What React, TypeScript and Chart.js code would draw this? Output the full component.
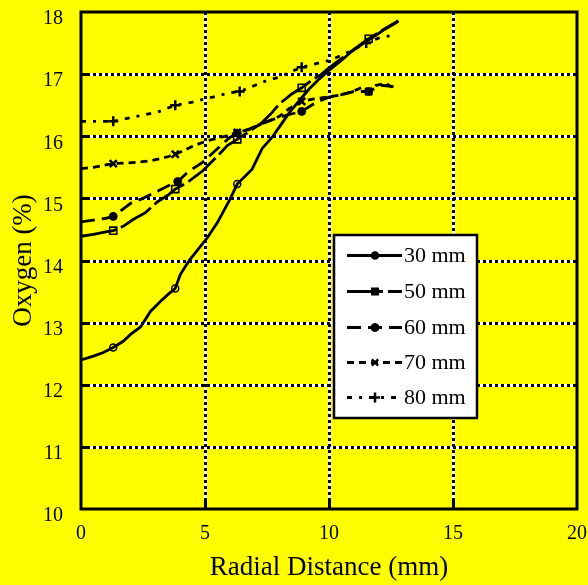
import React, { useEffect, useRef } from 'react';
import { Chart, registerables } from 'chart.js';
import { drawPoint } from 'chart.js/helpers';

Chart.register(...registerables);

const FONT = "'Liberation Serif', 'Times New Roman', Times, serif";

// ---- data ----
const seriesLabels = ['30 mm', '50 mm', '60 mm', '70 mm', '80 mm'];

const x30 = [0, 0.5, 0.9, 1.3, 1.7, 2.0, 2.4, 2.8, 3.2, 3.5, 3.8, 4.0, 4.2, 4.4, 4.8, 5.1, 5.5, 6.0, 6.3, 6.9, 7.3, 7.7, 8.0, 8.4, 8.9, 9.2, 9.6, 10.0, 10.5, 10.9, 11.4, 11.8, 12.2, 12.5, 12.8];
const y30 = [12.40, 12.46, 12.52, 12.60, 12.70, 12.81, 12.93, 13.18, 13.34, 13.45, 13.55, 13.77, 13.90, 14.02, 14.22, 14.37, 14.61, 14.98, 15.23, 15.47, 15.80, 15.98, 16.15, 16.38, 16.62, 16.76, 16.92, 17.06, 17.22, 17.36, 17.50, 17.60, 17.71, 17.78, 17.85];
const m30 = [1.3, 3.8, 6.3];

const x50 = [0, 0.5, 1.0, 1.3, 1.7, 2.1, 2.6, 3.1, 3.5, 3.8, 4.3, 4.9, 5.5, 5.9, 6.3, 6.8, 7.3, 7.7, 8.0, 8.5, 8.9, 9.3, 9.7, 10.0, 10.5, 11.0, 11.6, 12.2, 12.8];
const y50 = [14.39, 14.42, 14.46, 14.48, 14.55, 14.66, 14.77, 14.95, 15.05, 15.15, 15.26, 15.44, 15.68, 15.85, 15.95, 16.08, 16.22, 16.38, 16.52, 16.68, 16.78, 16.90, 17.00, 17.10, 17.25, 17.40, 17.57, 17.72, 17.86];
const m50 = [1.3, 3.8, 6.3, 8.9, 11.6];

const x60 = [0, 0.5, 1.0, 1.3, 1.6, 2.0, 2.5, 3.0, 3.5, 3.9, 4.3, 4.9, 5.5, 6.0, 6.3, 6.8, 7.3, 7.8, 8.4, 8.9, 9.5, 10.0, 10.5, 11.0, 11.6, 12.1, 12.6];
const y60 = [14.62, 14.65, 14.68, 14.71, 14.80, 14.92, 15.00, 15.10, 15.20, 15.27, 15.42, 15.58, 15.80, 15.98, 16.05, 16.12, 16.20, 16.28, 16.35, 16.40, 16.55, 16.63, 16.67, 16.72, 16.72, 16.82, 16.80];
const m60 = [1.3, 3.9, 6.3, 8.9, 11.6];

const x70 = [0, 0.5, 1.0, 1.3, 1.8, 2.2, 2.7, 3.1, 3.5, 3.8, 4.2, 4.5, 4.9, 5.3, 5.8, 6.3, 6.8, 7.3, 7.7, 8.0, 8.4, 8.9, 9.4, 9.9, 10.4, 10.9, 11.3, 11.6, 11.9, 12.3, 12.6];
const y70 = [15.48, 15.50, 15.54, 15.56, 15.57, 15.58, 15.60, 15.63, 15.67, 15.71, 15.78, 15.84, 15.90, 15.95, 16.00, 16.06, 16.11, 16.20, 16.27, 16.32, 16.45, 16.56, 16.60, 16.63, 16.66, 16.71, 16.78, 16.72, 16.82, 16.85, 16.78];
const m70 = [1.3, 3.8, 6.3, 8.9, 11.6];

const x80 = [0, 0.5, 1.0, 1.3, 2.0, 2.6, 3.1, 3.8, 4.5, 5.0, 5.5, 6.0, 6.4, 6.9, 7.5, 8.0, 8.4, 8.9, 9.4, 10.0, 10.5, 11.0, 11.5, 12.0, 12.6];
const y80 = [16.24, 16.24, 16.24, 16.24, 16.30, 16.35, 16.39, 16.50, 16.55, 16.60, 16.65, 16.70, 16.72, 16.80, 16.90, 16.95, 17.03, 17.11, 17.16, 17.22, 17.30, 17.40, 17.50, 17.58, 17.63];
const m80 = [1.3, 3.8, 6.4, 8.9, 11.5];

const xGrid = [5, 10, 15];
const yGrid = [11, 12, 13, 14, 15, 16, 17];

// ---- styles ----
const styles = [
  { dash: [] as number[], pointStyle: 'circle', radius: 3.5, pw: 1.5, fill: 'rgba(0,0,0,0)', legendR: 3.5 },
  { dash: [36, 5], pointStyle: 'rect', radius: 5, pw: 1.6, fill: 'rgba(0,0,0,0)', legendR: 4.5 },
  { dash: [14, 7], pointStyle: 'circle', radius: 4, pw: 1, fill: '#000', legendR: 4 },
  { dash: [7, 5], pointStyle: 'crossRot', radius: 5, pw: 2.5, fill: '#000', legendR: 4.5 },
  { dash: [5, 7, 3, 7], pointStyle: 'cross', radius: 5, pw: 2.5, fill: '#000', legendR: 5 },
];

function makeDataset(i: number, xs: number[], ys: number[], marks: number[]) {
  const s = styles[i];
  return {
    label: seriesLabels[i],
    data: xs.map((x, k) => ({ x, y: ys[k] })),
    borderColor: '#000',
    borderWidth: 2.8,
    borderDash: s.dash,
    tension: 0,
    fill: false,
    pointStyle: s.pointStyle,
    pointRadius: (c: any) => (marks.includes(xs[c.dataIndex]) ? s.radius : 0),
    pointBorderWidth: s.pw,
    pointBorderColor: '#000',
    pointBackgroundColor: s.fill,
  };
}

const bgPlugin = {
  id: 'bg',
  beforeDraw(chart: any) {
    const ctx = chart.ctx;
    ctx.save();
    ctx.fillStyle = '#ffff00';
    ctx.fillRect(0, 0, chart.width, chart.height);
    ctx.restore();
  },
};

const gridPlugin = {
  id: 'dottedGrid',
  beforeDatasetsDraw(chart: any) {
    const { ctx, chartArea: a, scales } = chart;
    ctx.save();
    const line = (x1: number, y1: number, x2: number, y2: number) => {
      ctx.beginPath();
      ctx.moveTo(x1, y1);
      ctx.lineTo(x2, y2);
      ctx.stroke();
    };
    ctx.lineWidth = 3;
    const segs: number[][] = [];
    xGrid.forEach((v) => {
      const px = Math.round(scales.x.getPixelForValue(v)) + 0.5;
      segs.push([px, a.top, px, a.bottom]);
    });
    yGrid.forEach((v) => {
      const py = Math.round(scales.y.getPixelForValue(v)) + 0.5;
      segs.push([a.left, py, a.right, py]);
    });
    ctx.strokeStyle = '#ffffff';
    ctx.setLineDash([]);
    segs.forEach((s) => line(s[0], s[1], s[2], s[3]));
    ctx.strokeStyle = '#000000';
    ctx.setLineDash([3, 3]);
    segs.forEach((s) => line(s[0], s[1], s[2], s[3]));
    ctx.restore();
  },
};

const framePlugin = {
  id: 'frame',
  afterDatasetsDraw(chart: any) {
    const { ctx, chartArea: a, scales } = chart;
    ctx.save();
    ctx.setLineDash([]);
    ctx.strokeStyle = '#000';
    ctx.lineWidth = 3;
    ctx.strokeRect(a.left, a.top, a.right - a.left, a.bottom - a.top);
    xGrid.forEach((v) => {
      const px = Math.round(scales.x.getPixelForValue(v)) + 0.5;
      ctx.beginPath();
      ctx.moveTo(px, a.bottom);
      ctx.lineTo(px, a.bottom - 8);
      ctx.stroke();
    });
    yGrid.forEach((v) => {
      const py = Math.round(scales.y.getPixelForValue(v)) + 0.5;
      ctx.beginPath();
      ctx.moveTo(a.left, py);
      ctx.lineTo(a.left + 8, py);
      ctx.stroke();
    });
    ctx.restore();
  },
};

const legendPlugin = {
  id: 'boxLegend',
  afterDraw(chart: any) {
    const ctx = chart.ctx;
    const left = 334, top = 235, w = 143, h = 183;
    ctx.save();
    ctx.fillStyle = '#fff';
    ctx.fillRect(left, top, w, h);
    ctx.strokeStyle = '#000';
    ctx.lineWidth = 2.5;
    ctx.setLineDash([]);
    ctx.strokeRect(left, top, w, h);
    const rows = [255, 291, 327, 362, 397];
    chart.data.datasets.forEach((d: any, i: number) => {
      const y = rows[i] + 0.5;
      const s = styles[i];
      ctx.strokeStyle = '#000';
      ctx.lineWidth = 3;
      ctx.setLineDash(s.dash);
      ctx.beginPath();
      ctx.moveTo(347, y);
      ctx.lineTo(402, y);
      ctx.stroke();
      ctx.setLineDash([]);
      ctx.fillStyle = '#000';
      ctx.strokeStyle = '#000';
      ctx.lineWidth = s.pw;
      drawPoint(ctx, { pointStyle: s.pointStyle, rotation: 0, radius: s.legendR, borderWidth: s.pw } as any, 375, y);
      ctx.fillStyle = '#000';
      ctx.font = `22px ${FONT}`;
      ctx.textBaseline = 'middle';
      ctx.textAlign = 'left';
      ctx.fillText(d.label, 404, y + 1);
    });
    ctx.restore();
  },
};

function zeroPad(scale: any) {
  scale.paddingTop = 0;
  scale.paddingBottom = 0;
  scale.paddingLeft = 0;
  scale.paddingRight = 0;
}

export default function App() {
  const ref = useRef<HTMLCanvasElement>(null);
  useEffect(() => {
    document.body.style.margin = '0';
    document.documentElement.style.background = '#ffff00';
    document.body.style.background = '#ffff00';
    const chart = new Chart(ref.current as HTMLCanvasElement, {
      type: 'line',
      data: {
        datasets: [
          makeDataset(0, x30, y30, m30),
          makeDataset(1, x50, y50, m50),
          makeDataset(2, x60, y60, m60),
          makeDataset(3, x70, y70, m70),
          makeDataset(4, x80, y80, m80),
        ] as any,
      },
      options: {
        responsive: false,
        animation: false,
        devicePixelRatio: 1,
        events: [],
        layout: { padding: { left: 0, right: 11, top: 12, bottom: 0 } },
        plugins: {
          legend: { display: false },
          tooltip: { enabled: false },
        },
        scales: {
          x: {
            type: 'linear',
            min: 0,
            max: 20,
            grid: { display: false, drawTicks: false },
            border: { display: false },
            ticks: {
              stepSize: 5,
              padding: 13,
              color: '#000',
              maxRotation: 0,
              font: { family: FONT, size: 20 },
            },
            title: {
              display: true,
              text: 'Radial Distance (mm)',
              color: '#000',
              font: { family: FONT, size: 27 },
              padding: { top: 0, bottom: 1 },
            },
            afterFit(scale: any) {
              scale.height = 76;
              zeroPad(scale);
            },
          },
          y: {
            type: 'linear',
            min: 10,
            max: 18,
            grid: { display: false, drawTicks: false },
            border: { display: false },
            ticks: {
              stepSize: 1,
              padding: 18,
              labelOffset: 7,
              color: '#000',
              font: { family: FONT, size: 20 },
            },
            title: {
              display: true,
              text: 'Oxygen (%)',
              color: '#000',
              font: { family: FONT, size: 27 },
              padding: { top: 8, bottom: 0 },
            },
            afterFit(scale: any) {
              scale.width = 81;
              zeroPad(scale);
            },
          },
        },
      } as any,
      plugins: [bgPlugin, gridPlugin, framePlugin, legendPlugin],
    });
    return () => chart.destroy();
  }, []);
  return (
    <canvas
      ref={ref}
      width={588}
      height={585}
      style={{ display: 'block', width: 588, height: 585 }}
    />
  );
}
